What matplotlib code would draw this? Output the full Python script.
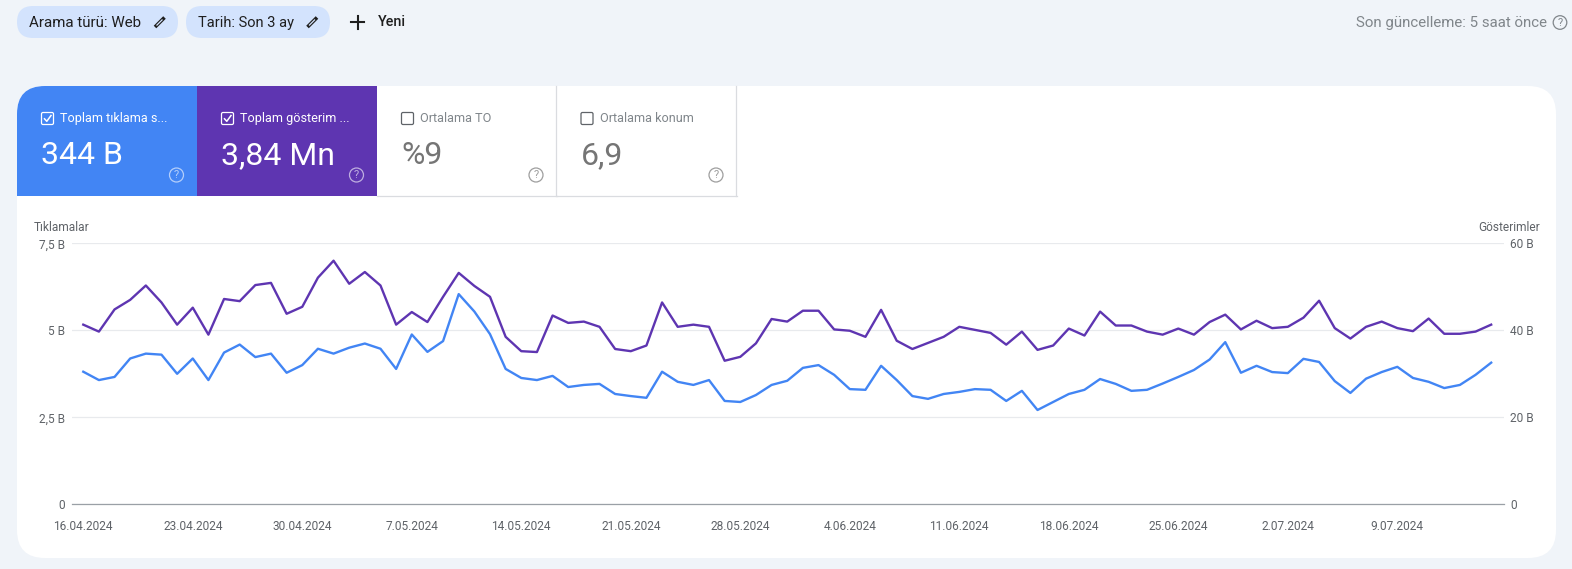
import matplotlib
matplotlib.use('Agg')
import matplotlib.pyplot as plt
from matplotlib.patches import Circle, FancyBboxPatch, Rectangle

plt.rcParams['font.family'] = ['Roboto', 'DejaVu Sans']

# values (both in "B" units)
clicks = [3.81, 3.57, 3.66, 4.19, 4.33, 4.30, 3.75, 4.19, 3.57, 4.36, 4.59, 4.23, 4.33,
          3.78, 4.00, 4.47, 4.33, 4.50, 4.62, 4.47, 3.89, 4.88, 4.38, 4.69, 6.04, 5.54,
          4.89, 3.89, 3.63, 3.57, 3.69, 3.37, 3.43, 3.46, 3.17, 3.11, 3.06, 3.81, 3.52,
          3.43, 3.57, 2.97, 2.94, 3.14, 3.43, 3.55, 3.92, 4.00, 3.72, 3.31, 3.29, 3.98,
          3.57, 3.11, 3.03, 3.17, 3.23, 3.31, 3.29, 2.97, 3.26, 2.71, 2.94, 3.17, 3.29,
          3.60, 3.46, 3.26, 3.29, 3.47, 3.66, 3.86, 4.16, 4.66, 3.78, 3.98, 3.80, 3.77,
          4.18, 4.09, 3.54, 3.20, 3.61, 3.80, 3.95, 3.63, 3.52, 3.34, 3.43, 3.72, 4.07]
impressions = [41.3, 39.7, 44.8, 47.0, 50.3, 46.4, 41.3, 45.2, 39.0, 47.2, 46.7, 50.4, 50.9,
               43.8, 45.4, 52.1, 56.0, 50.7, 53.4, 50.3, 41.3, 44.2, 41.9, 47.7, 53.2, 50.2,
               47.7, 38.5, 35.2, 35.0, 43.4, 41.7, 42.0, 40.8, 35.7, 35.2, 36.5, 46.4, 40.8,
               41.3, 40.8, 33.0, 33.9, 37.0, 42.6, 42.0, 44.5, 44.5, 40.2, 39.9, 38.5, 44.7,
               37.6, 35.7, 37.1, 38.5, 40.8, 40.1, 39.4, 36.7, 39.7, 35.5, 36.5, 40.4, 38.8,
               44.3, 41.1, 41.1, 39.7, 39.0, 40.4, 39.0, 41.9, 43.6, 40.2, 42.2, 40.5, 40.8,
               42.9, 46.8, 40.5, 38.1, 40.8, 42.0, 40.5, 39.8, 42.7, 39.2, 39.2, 39.7, 41.3]
date_labels = ['16.04.2024', '23.04.2024', '30.04.2024', '7.05.2024', '14.05.2024',
               '21.05.2024', '28.05.2024', '4.06.2024', '11.06.2024', '18.06.2024',
               '25.06.2024', '2.07.2024', '9.07.2024']
left_ticks = [0, 2.5, 5, 7.5]
left_labels = ['0', '2,5 B', '5 B', '7,5 B']
right_ticks = [0, 20, 40, 60]
right_labels = ['0', '20 B', '40 B', '60 B']

BG = '#f0f4f9'
BLUE = '#4285f4'
PURPLE = '#5e35b1'
GREY = '#5f6368'
W, H = 1572, 569

fig = plt.figure(figsize=(W / 100, H / 100), dpi=100, facecolor=BG)

# page furniture, drawn in pixel coordinates
bg = fig.add_axes([0, 0, 1, 1])
bg.set_xlim(0, W)
bg.set_ylim(H, 0)
bg.axis('off')

card = FancyBboxPatch((17, 86), 1539, 472, boxstyle='round,pad=0,rounding_size=28',
                      fc='white', ec='none', mutation_aspect=1)
bg.add_patch(card)

tiles = [(17, 180, BLUE, 'Toplam tıklama s...', '344 B', True),
         (197, 180, PURPLE, 'Toplam gösterim ...', '3,84 Mn', True),
         (377, 179.5, 'white', 'Ortalama TO', '%9', False),
         (556.5, 180, 'white', 'Ortalama konum', '6,9', False)]
for x, w, color, title, value, checked in tiles:
    r = Rectangle((x, 86), w, 110, fc=color, ec='none')
    bg.add_patch(r)
    r.set_clip_path(card)
    fg = 'white' if checked else '#757575'
    if not checked:
        bg.plot([x + w - 0.5, x + w - 0.5], [86, 196], color='#dadce0', lw=0.9)
        bg.plot([x, x + w], [195.5, 195.5], color='#dadce0', lw=0.9)
    bg.add_patch(FancyBboxPatch((x + 24.5, 112.5), 12, 12, boxstyle='round,pad=0,rounding_size=1.5',
                                fc='none', ec='white' if checked else '#5f6368', lw=0.9))
    if checked:
        bg.plot([x + 27.5, x + 29.8, x + 34], [118.8, 121.3, 115.5], color='white', lw=1.1)
    bg.text(x + 43.5, 118, title, color='white' if checked else '#80868b', fontsize=9.1,
            ha='left', va='center')
    bg.text(x + 24, 155.5, value, color=fg, fontsize=23, ha='left', va='center')
    bg.add_patch(Circle((x + w - 20.5, 175), 7, fc='none', lw=0.9,
                        ec='#ffffff99' if checked else '#9e9e9e'))
    bg.text(x + w - 20.5, 175.3, '?', color='#ffffff99' if checked else '#9e9e9e', fontsize=8,
            ha='center', va='center')

# filter chips
chips = [(17, 161, 'Arama türü: Web', 160, 10.9), (186, 144, 'Tarih: Son 3 ay', 312.5, 10.5)]
for x, w, label, pen_x, size in chips:
    bg.add_patch(FancyBboxPatch((x, 6), w, 32, boxstyle='round,pad=0,rounding_size=16',
                                fc='#d3e3fd', ec='none'))
    bg.text(x + 12, 22.5, label, color='#1f1f1f', fontsize=size, ha='left', va='center')
    # little pencil: dark outline, chip colour inside
    bg.plot([pen_x - 5, pen_x + 4.5], [27, 17.5], color='#1f1f1f', lw=2.6, solid_capstyle='butt')
    bg.plot([pen_x - 3.5, pen_x + 2.5], [25.5, 19.5], color='#d3e3fd', lw=0.9, solid_capstyle='butt')
bg.plot([351, 364], [22, 22], color='#1f1f1f', lw=1.5)
bg.plot([357.5, 357.5], [15.5, 28.5], color='#1f1f1f', lw=1.5)
bg.text(378, 21.5, 'Yeni', color='#1f1f1f', fontsize=10.3, fontweight='medium', ha='left', va='center')
bg.text(1547, 22.5, 'Son güncelleme: 5 saat önce', color='#80868b', fontsize=10.8, ha='right', va='center')
bg.add_patch(Circle((1560, 22.5), 6.8, fc='none', ec='#80868b', lw=0.9))
bg.text(1560, 22.8, '?', color='#80868b', fontsize=8, ha='center', va='center')

bg.text(33.3, 227, 'Tıklamalar', color=GREY, fontsize=8.6, ha='left', va='center')
bg.text(1540, 227, 'Gösterimler', color=GREY, fontsize=8.6, ha='right', va='center')

# chart
ax_l, ax_r, ax_t, ax_b = 72, 1503.7, 243.3, 504.3
ax = fig.add_axes([ax_l / W, 1 - ax_b / H, (ax_r - ax_l) / W, (ax_b - ax_t) / H])
ax.patch.set_alpha(0)
days = list(range(len(clicks)))
ax.plot(days, clicks, color=BLUE, lw=1.7, clip_on=False)
ax.set_xlim(-0.72, 90.8)
ax.set_ylim(0, 7.5)
ax.set_yticks(left_ticks)
ax.set_yticklabels(left_labels)
ax.set_xticks(days[::7])
ax.set_xticklabels(date_labels)
ax.grid(axis='y', color='#e8eaed', lw=0.9)
ax.set_axisbelow(True)
ax.tick_params(axis='both', length=0, labelsize=8.6, labelcolor=GREY)
ax.tick_params(axis='x', pad=11.5)
ax.tick_params(axis='y', pad=5)
for s in ['top', 'left', 'right']:
    ax.spines[s].set_visible(False)
ax.spines['bottom'].set_color('#9aa0a6')
ax.spines['bottom'].set_linewidth(0.9)

ax2 = ax.twinx()
ax2.plot(days, impressions, color=PURPLE, lw=1.7, clip_on=False)
ax2.set_ylim(0, 60)
ax2.set_yticks(right_ticks)
ax2.set_yticklabels(right_labels)
ax2.tick_params(axis='y', length=0, labelsize=8.6, labelcolor=GREY, pad=4.5)
for s in ax2.spines.values():
    s.set_visible(False)

fig.savefig('out.png', dpi=100, facecolor=BG)
